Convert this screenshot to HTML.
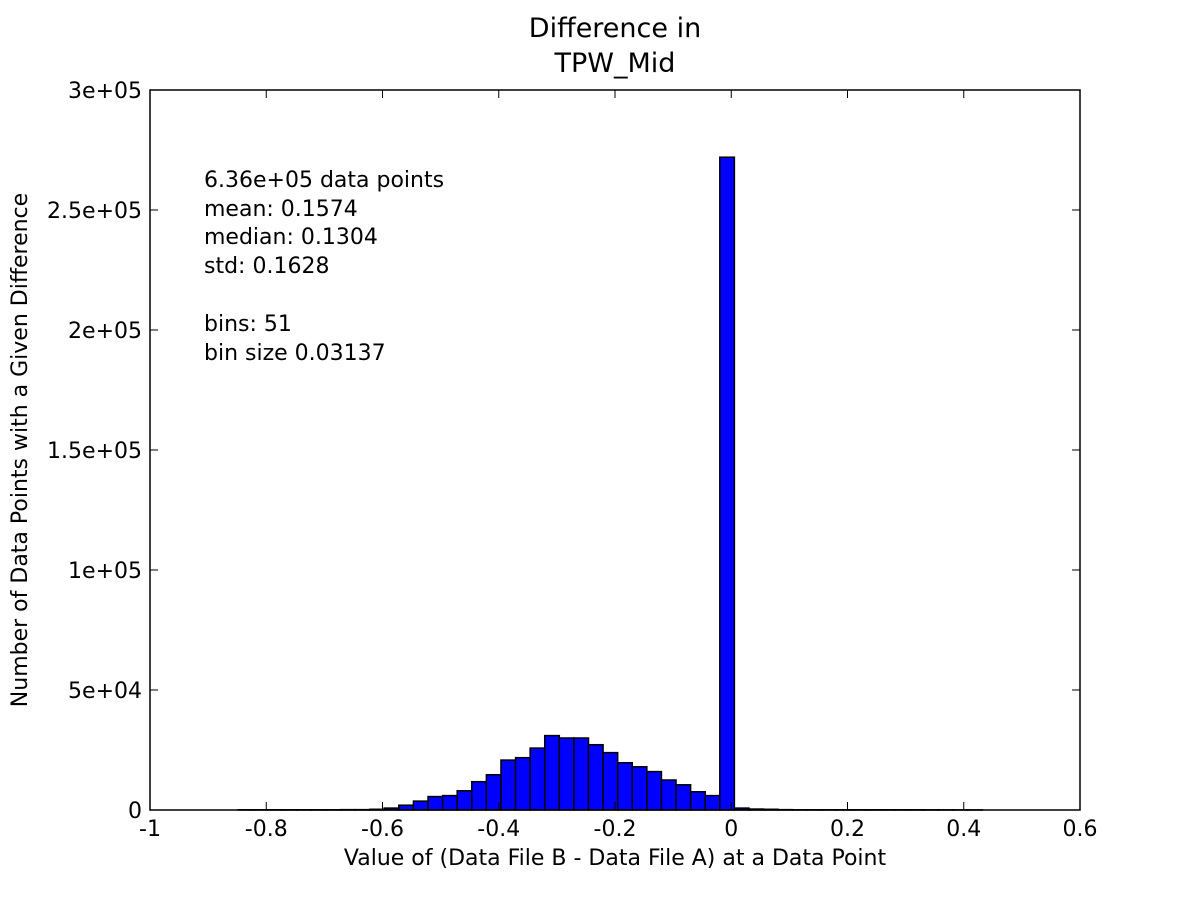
<!DOCTYPE html>
<html><head><meta charset="utf-8"><style>
body{margin:0;background:#fff;}
svg text{font-family:"DejaVu Sans","Liberation Sans",sans-serif;fill:#000;}
</style></head><body>
<svg width="1200" height="900" xmlns="http://www.w3.org/2000/svg">
<rect width="1200" height="900" fill="#fff"/>
<text x="615" y="37" font-size="27" text-anchor="middle">Difference in</text>
<text x="615" y="72" font-size="27" text-anchor="middle">TPW_Mid</text>
<g id="bars"></g>
<g id="axes"></g>
<rect x="150" y="90" width="930" height="720" fill="none" stroke="#000" stroke-width="1.5"/>
<g font-size="22">
<text x="204" y="187">6.36e+05 data points</text>
<text x="204" y="216">mean: 0.1574</text>
<text x="204" y="244">median: 0.1304</text>
<text x="204" y="273">std: 0.1628</text>
<text x="204" y="331">bins: 51</text>
<text x="204" y="360">bin size 0.03137</text>
</g>
<text x="615" y="865" font-size="22" text-anchor="middle">Value of (Data File B - Data File A) at a Data Point</text>
<text transform="translate(27,450) rotate(-90)" font-size="22" text-anchor="middle">Number of Data Points with a Given Difference</text>
</svg>
<script>
const binStart = -0.848;
const binWidth = 0.0251;
const counts = [100,100,100,100,100,100,100,150,150,300,800,2000,3700,5600,6000,8000,11800,14700,20800,21800,25800,31000,30000,30000,27200,23900,19700,18000,16000,12500,10500,7600,6000,272000,800,400,300,150,100,100,100,100,100,100,100,100,100,80,60,50,40];
const xTicks = [-1,-0.8,-0.6,-0.4,-0.2,0,0.2,0.4,0.6];
const xTickLabels = ["-1","-0.8","-0.6","-0.4","-0.2","0","0.2","0.4","0.6"];
const yTicks = [0,50000,100000,150000,200000,250000,300000];
const yTickLabels = ["0","5e+04","1e+05","1.5e+05","2e+05","2.5e+05","3e+05"];
const NS="http://www.w3.org/2000/svg";
const X=v=>150+(v+1)/1.6*930;
const Y=v=>810-v/300000*720;
const bars=document.getElementById('bars');
counts.forEach((c,i)=>{
  const r=document.createElementNS(NS,'rect');
  const x0=X(binStart+i*binWidth), x1=X(binStart+(i+1)*binWidth);
  r.setAttribute('x',x0);r.setAttribute('width',x1-x0);
  r.setAttribute('y',Y(c));r.setAttribute('height',Y(0)-Y(c));
  r.setAttribute('fill','#0000ff');r.setAttribute('stroke','#000');r.setAttribute('stroke-width','1.5');
  
  
  bars.appendChild(r);
});
const axes=document.getElementById('axes');
function line(x1,y1,x2,y2){const l=document.createElementNS(NS,'line');l.setAttribute('x1',x1);l.setAttribute('y1',y1);l.setAttribute('x2',x2);l.setAttribute('y2',y2);l.setAttribute('stroke','#000');l.setAttribute('stroke-width','1');axes.appendChild(l);return l;}
function txt(x,y,s,anchor){const t=document.createElementNS(NS,'text');t.setAttribute('x',x);t.setAttribute('y',y);t.setAttribute('font-size','22');t.setAttribute('text-anchor',anchor);t.textContent=s;axes.appendChild(t);return t;}
xTicks.forEach((v,i)=>{
  const x=X(v);
  line(x,810,x,802);line(x,90,x,98);
  const t=txt(x,836,xTickLabels[i],'middle');
  
  
});
yTicks.forEach((v,i)=>{
  const y=Y(v);
  line(150,y,158,y);line(1080,y,1072,y);
  const t=txt(142,y+8,yTickLabels[i],'end');
  
  
});
</script>
</body></html>
